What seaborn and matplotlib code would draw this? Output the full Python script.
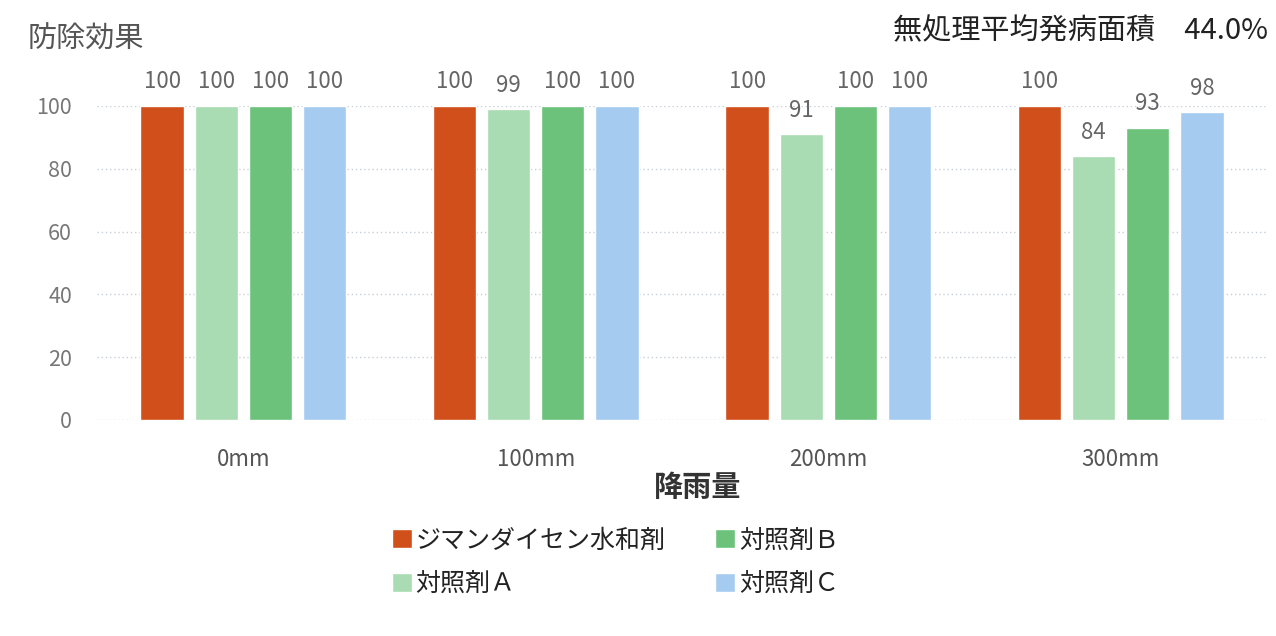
import pandas as pd
import matplotlib
matplotlib.use("Agg")
import matplotlib.pyplot as plt
import seaborn as sns

# data
rainfall = ["0mm", "100mm", "200mm", "300mm"]
products = ["ジマンダイセン水和剤", "対照剤Ａ", "対照剤Ｂ", "対照剤Ｃ"]
zimandaisen = [100, 100, 100, 100]
control_a = [100, 99, 91, 84]
control_b = [100, 100, 100, 93]
control_c = [100, 100, 100, 98]
colors = ["#D14F1A", "#A9DCB2", "#6CC27B", "#A5CBF1"]

rows = []
for name, vals in zip(products, [zimandaisen, control_a, control_b, control_c]):
    for r, v in zip(rainfall, vals):
        rows.append({"rain": r, "product": name, "value": v})
df = pd.DataFrame(rows)

sns.set_style("white")
plt.rcParams["font.family"] = ["Noto Sans CJK JP", "DejaVu Sans"]

fig = plt.figure(figsize=(12.76, 6.36), dpi=100)
ax = fig.add_axes([97 / 1276, 1 - 420 / 636, 1170 / 1276, 314 / 636])

sns.barplot(
    data=df, x="rain", y="value", hue="product",
    order=rainfall, hue_order=products, palette=colors,
    width=0.74, gap=0.2, errorbar=None, saturation=1, ax=ax,
)

for c in ax.containers:
    ax.bar_label(c, fmt="%d", padding=9, fontsize=16, color="#666666")

ax.set_xlim(-0.5, 3.5)
ax.set_ylim(0, 100)
ax.set_yticks([0, 20, 40, 60, 80, 100])
ax.grid(axis="y", linestyle=(0, (1, 2)), color="#c8cfd8", linewidth=1)
ax.set_axisbelow(True)
sns.despine(ax=ax, left=True, bottom=True)
ax.tick_params(axis="y", length=0, pad=18, labelsize=15.5, labelcolor="#777777")
ax.tick_params(axis="x", length=0, pad=20, labelsize=16, labelcolor="#555555")
ax.set_xlabel("")
ax.set_ylabel("")

# legend
handles, labels = ax.get_legend_handles_labels()
ax.legend_.remove()
fig.legend(
    handles, labels, ncol=2, loc="upper left",
    bbox_to_anchor=(379 / 1276, 1 - 515 / 636), frameon=False,
    fontsize=18, handlelength=0.8, handleheight=0.8, handletextpad=0.15,
    columnspacing=2.0, labelspacing=0.7, borderpad=0, labelcolor="#222222",
)

fig.text(698 / 1276, 1 - 487 / 636, "降雨量", ha="center", va="center",
         fontsize=21, fontweight="bold", color="#333333")
fig.text(28 / 1276, 1 - 40 / 636, "防除効果", ha="left", va="center",
         fontsize=21, color="#555555")
fig.text(1268 / 1276, 1 - 31 / 636, "無処理平均発病面積\u300044.0%", ha="right",
         va="center", fontsize=21, color="#222222")

fig.savefig("out.png", dpi=100)
